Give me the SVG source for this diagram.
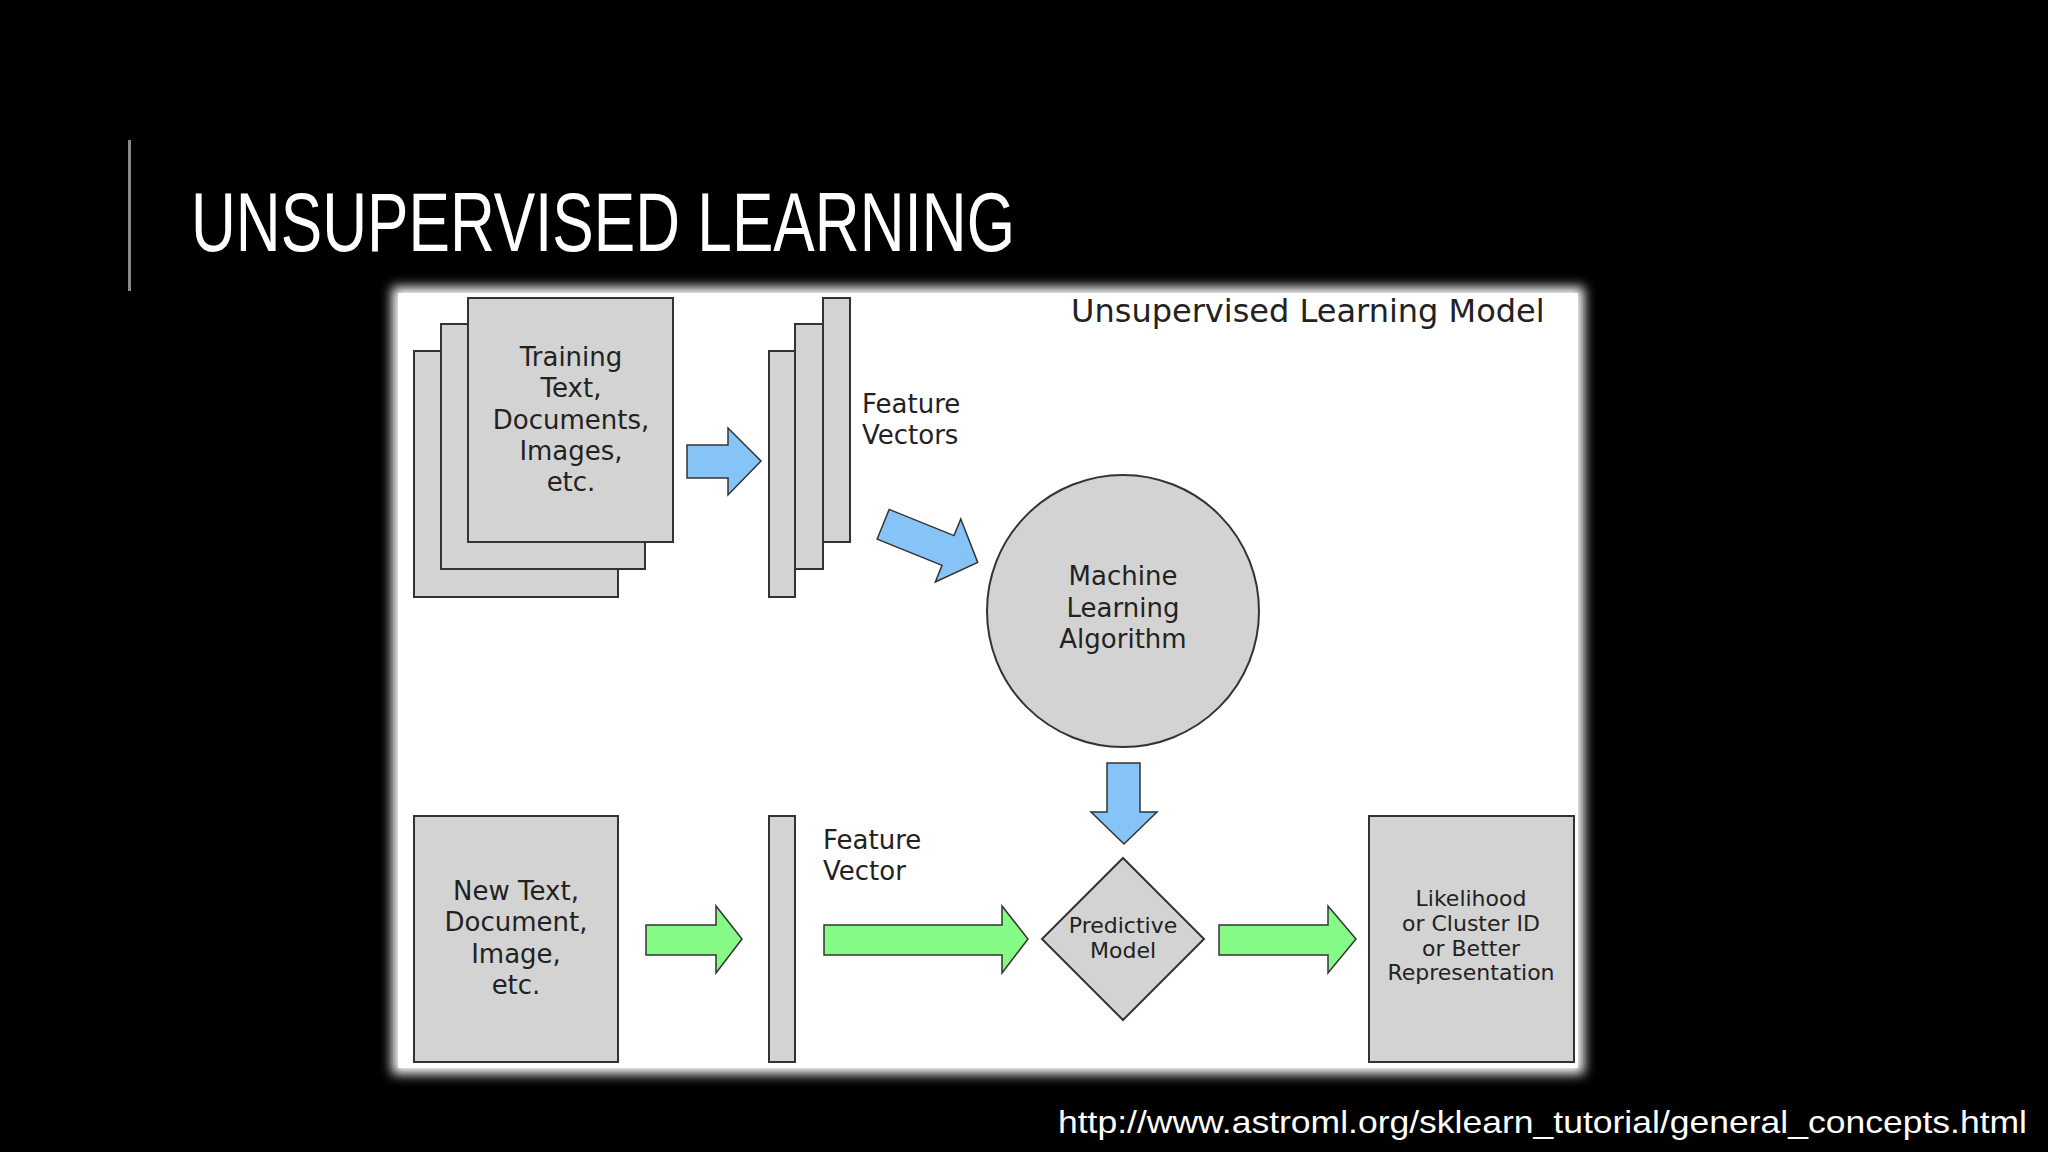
<svg xmlns="http://www.w3.org/2000/svg" width="2048" height="1152" viewBox="0 0 2048 1152">
<defs>
<filter id="glow" x="-5%" y="-5%" width="110%" height="110%"><feGaussianBlur stdDeviation="6"/></filter>
<style>
.box{fill:#d3d3d3;stroke:#333;stroke-width:2}
.t{font-family:"DejaVu Sans",sans-serif;font-size:26px;fill:#222;text-anchor:middle;dominant-baseline:middle}
.s{font-size:22px}
.l{text-anchor:start}
.blue{fill:#86c3f7;stroke:#333;stroke-width:1.5}
.green{fill:#86fa86;stroke:#333;stroke-width:1.5}
</style>
</defs>
<rect width="2048" height="1152" fill="#000"/>
<rect x="128" y="140" width="3" height="151" fill="#888"/>
<text x="191" y="251" font-family="Liberation Sans Narrow, Liberation Sans, sans-serif" font-size="84" fill="#fff" textLength="824" lengthAdjust="spacingAndGlyphs">UNSUPERVISED LEARNING</text>
<rect x="392" y="287" width="1192" height="787" fill="#fff" filter="url(#glow)"/>
<rect x="398" y="293" width="1180" height="775" fill="#fff"/>
<text x="1071" y="313" class="t l" font-size="32" style="font-size:32px">Unsupervised Learning Model</text>
<g id="training">
<rect class="box" x="414" y="351" width="204" height="246"/>
<rect class="box" x="441" y="324" width="204" height="245"/>
<rect class="box" x="468" y="298" width="205" height="244"/>
<text class="t" x="571" y="358">Training</text><text class="t" x="571" y="389">Text,</text><text class="t" x="571" y="421">Documents,</text><text class="t" x="571" y="452">Images,</text><text class="t" x="571" y="483">etc.</text>
</g>
<g id="featurevectors">
<rect class="box" x="769" y="351" width="26" height="246"/>
<rect class="box" x="795" y="324" width="28" height="245"/>
<rect class="box" x="823" y="298" width="27" height="244"/>
<text class="t l" x="862" y="405">Feature</text><text class="t l" x="862" y="436">Vectors</text>
</g>
<g id="algorithm">
<circle class="box" cx="1123" cy="611" r="136"/>
<text class="t" x="1123" y="577">Machine</text><text class="t" x="1123" y="609">Learning</text><text class="t" x="1123" y="640">Algorithm</text>
</g>
<g id="newtext">
<rect class="box" x="414" y="816" width="204" height="246"/>
<text class="t" x="516" y="892">New Text,</text><text class="t" x="516" y="923">Document,</text><text class="t" x="516" y="955">Image,</text><text class="t" x="516" y="986">etc.</text>
</g>
<g id="featurevector">
<rect class="box" x="769" y="816" width="26" height="246"/>
<text class="t l" x="823" y="841">Feature</text><text class="t l" x="823" y="872">Vector</text>
</g>
<g id="predictive">
<polygon class="box" points="1123,858 1204,939 1123,1020 1042,939"/>
<text class="t s" x="1123" y="927">Predictive</text><text class="t s" x="1123" y="952">Model</text>
</g>
<g id="result">
<rect class="box" x="1369" y="816" width="205" height="246"/>
<text class="t s" x="1471" y="900">Likelihood</text><text class="t s" x="1471" y="925">or Cluster ID</text><text class="t s" x="1471" y="950">or Better</text><text class="t s" x="1471" y="974">Representation</text>
</g>
<g id="connectors">
<polygon class="blue" points="687,445 728,445 728,428 761,461 728,495 728,478 687,478"/>
<polygon class="blue" transform="translate(885,525) rotate(22)" points="-2,-16 -2,16 68,16 68,34 100,0 68,-34 68,-16"/>
<polygon class="blue" points="1107,763 1140,763 1140,812 1157,812 1124,844 1091,812 1107,812"/>
<polygon class="green" points="646,925 716,925 716,906 742,939 716,973 716,955 646,955"/>
<polygon class="green" points="824,925 1002,925 1002,906 1028,939 1002,973 1002,955 824,955"/>
<polygon class="green" points="1219,925 1328,925 1328,906 1356,939 1328,973 1328,955 1219,955"/>
</g>
<text x="1058" y="1133" font-family="Liberation Sans, sans-serif" font-size="32" fill="#fff" textLength="969" lengthAdjust="spacingAndGlyphs">http://www.astroml.org/sklearn_tutorial/general_concepts.html</text>
</svg>
